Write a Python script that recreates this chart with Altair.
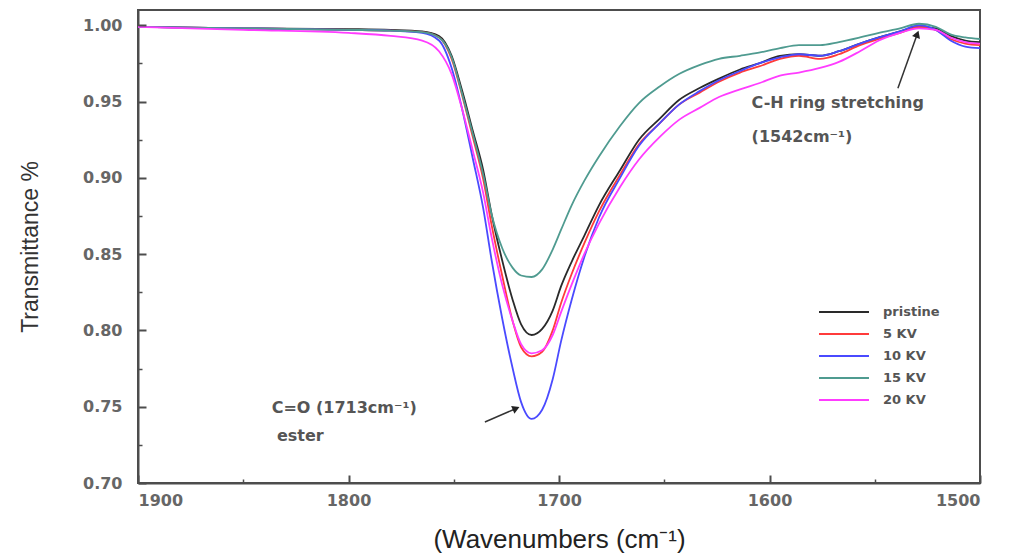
import altair as alt
import pandas as pd

# ---------------- data ----------------
wavenumbers = [1900, 1850, 1800, 1780, 1765, 1757, 1751, 1746, 1741, 1736, 1732, 1727,
               1722, 1718, 1713, 1708, 1703, 1699, 1694, 1688, 1681, 1671, 1662, 1652,
               1643, 1633, 1624, 1614, 1605, 1595, 1586, 1576, 1567, 1557, 1548, 1538,
               1529, 1521, 1514, 1507, 1500]

t_pristine = [0.999, 0.998, 0.9975, 0.997, 0.996, 0.993, 0.980, 0.957, 0.931, 0.905, 0.876, 0.846,
              0.820, 0.804, 0.797, 0.801, 0.813, 0.829, 0.845, 0.862, 0.882, 0.905, 0.925, 0.939,
              0.951, 0.959, 0.965, 0.971, 0.975, 0.980, 0.981, 0.980, 0.983, 0.988, 0.992, 0.996,
              0.999, 0.998, 0.993, 0.990, 0.989]

t_5kv = [0.999, 0.998, 0.997, 0.9965, 0.9955, 0.992, 0.978, 0.954, 0.927, 0.899, 0.869, 0.836,
         0.806, 0.789, 0.783, 0.786, 0.800, 0.818, 0.837, 0.857, 0.878, 0.902, 0.922, 0.936,
         0.948, 0.956, 0.963, 0.969, 0.973, 0.978, 0.980, 0.978, 0.981, 0.987, 0.991, 0.995,
         0.999, 0.997, 0.991, 0.988, 0.987]

t_10kv = [0.999, 0.998, 0.997, 0.9965, 0.995, 0.990, 0.972, 0.945, 0.913, 0.880, 0.846, 0.808,
          0.775, 0.753, 0.742, 0.748, 0.768, 0.793, 0.820, 0.848, 0.874, 0.900, 0.921, 0.936,
          0.948, 0.957, 0.964, 0.970, 0.975, 0.979, 0.981, 0.980, 0.983, 0.988, 0.992, 0.996,
          1.000, 0.997, 0.990, 0.986, 0.985]

t_15kv = [0.999, 0.998, 0.997, 0.9965, 0.9955, 0.992, 0.979, 0.955, 0.929, 0.902, 0.876, 0.854,
          0.841, 0.836, 0.835, 0.840, 0.853, 0.866, 0.882, 0.898, 0.914, 0.934, 0.949, 0.960,
          0.968, 0.974, 0.978, 0.980, 0.982, 0.985, 0.987, 0.987, 0.989, 0.992, 0.995, 0.998,
          1.001, 0.999, 0.994, 0.992, 0.991]

t_20kv = [0.999, 0.997, 0.995, 0.993, 0.990, 0.983, 0.968, 0.945, 0.918, 0.890, 0.861, 0.830,
          0.806, 0.791, 0.785, 0.787, 0.797, 0.812, 0.830, 0.850, 0.870, 0.894, 0.912, 0.927,
          0.938, 0.946, 0.953, 0.958, 0.962, 0.967, 0.969, 0.972, 0.976, 0.983, 0.990, 0.995,
          0.998, 0.997, 0.992, 0.989, 0.988]

series_names = ["pristine", "5 KV", "10 KV", "15 KV", "20 KV"]
series_values = [t_pristine, t_5kv, t_10kv, t_15kv, t_20kv]
series_colors = ["#2a2a2a", "#ff3b3b", "#4a4aff", "#4f9b90", "#ff3cff"]

x_ticks = [1900, 1800, 1700, 1600, 1500]
x_minor = [1850, 1750, 1650, 1550]
y_ticks = [0.70, 0.75, 0.80, 0.85, 0.90, 0.95, 1.00]
y_minor = [0.725, 0.775, 0.825, 0.875, 0.925, 0.975]

ann_text = ["C=O (1713cm\u207b\u00b9)", "ester", "C-H ring stretching", "(1542cm\u207b\u00b9)"]
ann_x = [1836.5, 1834.0, 1608.5, 1608.5]
ann_y = [0.749, 0.731, 0.949, 0.927]

arrow_x = [1735.2, 1539.0]
arrow_y = [0.740, 0.9587]
arrow_x2 = [1720.9, 1530.0]
arrow_y2 = [0.7485, 0.9935]

# ---------------- tables ----------------
rows = []
for name, vals in zip(series_names, series_values):
    for w, t in zip(wavenumbers, vals):
        rows.append({"wn": w, "T": t, "series": name})
df = pd.DataFrame(rows)

ann_df = pd.DataFrame({"x": ann_x, "y": ann_y, "text": ann_text})
arr_df = pd.DataFrame({"x": arrow_x, "y": arrow_y, "x2": arrow_x2, "y2": arrow_y2})

FRAME = "#4d4d4d"
LABEL_FONT = "DejaVu Sans"
W, H = 842, 473

xscale = alt.Scale(domain=[1500, 1900], reverse=True, nice=False, zero=False)
yscale = alt.Scale(domain=[0.70, 1.01], nice=False, zero=False)

lines = alt.Chart(df).mark_line(interpolate="monotone", strokeWidth=1.8).encode(
    x=alt.X("wn:Q", scale=xscale,
            axis=alt.Axis(orient="bottom", values=x_ticks, format="d", ticks=False,
                          labelPadding=9, labelFont=LABEL_FONT, labelFontSize=16,
                          labelFontWeight="bold", labelColor="#666666",
                          domainColor=FRAME, domainWidth=2, grid=False,
                          title="(Wavenumbers (cm\u207b\u00b9)", titleFont="Liberation Sans",
                          titleFontSize=26, titleFontWeight="normal", titleColor="#222222",
                          titlePadding=18)),
    y=alt.Y("T:Q", scale=yscale,
            axis=alt.Axis(orient="left", values=y_ticks, format=".2f", ticks=False,
                          labelPadding=16, labelFont=LABEL_FONT, labelFontSize=16,
                          labelFontWeight="bold", labelColor="#666666",
                          domainColor=FRAME, domainWidth=2, grid=False,
                          title="Transmittance %", titleFont="Liberation Sans",
                          titleFontSize=23, titleFontWeight="normal", titleColor="#333333",
                          titlePadding=40)),
    color=alt.Color("series:N", sort=series_names,
                    scale=alt.Scale(domain=series_names, range=series_colors),
                    legend=alt.Legend(title=None, orient="none", legendX=691, legendY=287,
                                      symbolType="M-1.85,0L1.85,0", symbolSize=730,
                                      symbolStrokeWidth=2, labelFont=LABEL_FONT,
                                      labelFontSize=13, labelFontWeight="bold",
                                      labelColor="#555555", rowPadding=0, labelOffset=24)),
    detail="series:N",
)

# inward major ticks: an axis carried by the annotation layer
texts = alt.Chart(ann_df).mark_text(align="left", baseline="middle", font=LABEL_FONT,
                                    fontSize=16, fontWeight="bold", color="#555555").encode(
    x=alt.X("x:Q", scale=xscale,
            axis=alt.Axis(orient="bottom", values=x_ticks, labels=False, domain=False,
                          grid=False, ticks=True, tickSize=8, tickWidth=2, tickColor=FRAME,
                          offset=-8, title=None, zindex=2)),
    y=alt.Y("y:Q", scale=yscale,
            axis=alt.Axis(orient="left", values=y_ticks, labels=False, domain=False,
                          grid=False, ticks=True, tickSize=8, tickWidth=2, tickColor=FRAME,
                          offset=-8, title=None, zindex=2)),
    text="text:N")

# inward minor ticks: an axis carried by the arrow layer
arrows = alt.Chart(arr_df).mark_rule(color="#333333", strokeWidth=1.5).encode(
    x=alt.X("x:Q", scale=xscale,
            axis=alt.Axis(orient="bottom", values=x_minor, labels=False, domain=False,
                          grid=False, ticks=True, tickSize=4, tickWidth=1.5, tickColor=FRAME,
                          offset=-4, title=None, zindex=2)),
    y=alt.Y("y:Q", scale=yscale,
            axis=alt.Axis(orient="left", values=y_minor, labels=False, domain=False,
                          grid=False, ticks=True, tickSize=4, tickWidth=1.5, tickColor=FRAME,
                          offset=-4, title=None, zindex=2)),
    x2="x2:Q", y2="y2:Q")

head1 = alt.Chart(arr_df.iloc[[0]]).mark_point(shape="triangle", filled=True, color="#222222",
                                               size=70, angle=67, opacity=1).encode(
    x=alt.X("x2:Q", scale=xscale, axis=None), y=alt.Y("y2:Q", scale=yscale, axis=None))
head2 = alt.Chart(arr_df.iloc[[1]]).mark_point(shape="triangle", filled=True, color="#222222",
                                               size=70, angle=20, opacity=1).encode(
    x=alt.X("x2:Q", scale=xscale, axis=None), y=alt.Y("y2:Q", scale=yscale, axis=None))

chart = alt.layer(lines, texts, arrows, head1, head2).resolve_axis(
    x="independent", y="independent"
).properties(
    width=W, height=H,
    autosize=alt.AutoSizeParams(type="none"),
    padding={"left": 138, "top": 10, "right": 33, "bottom": 76},
    background="white",
).configure_view(stroke=FRAME, strokeWidth=2)

chart.save("out.html", embed_options={"renderer": "svg", "actions": False})
